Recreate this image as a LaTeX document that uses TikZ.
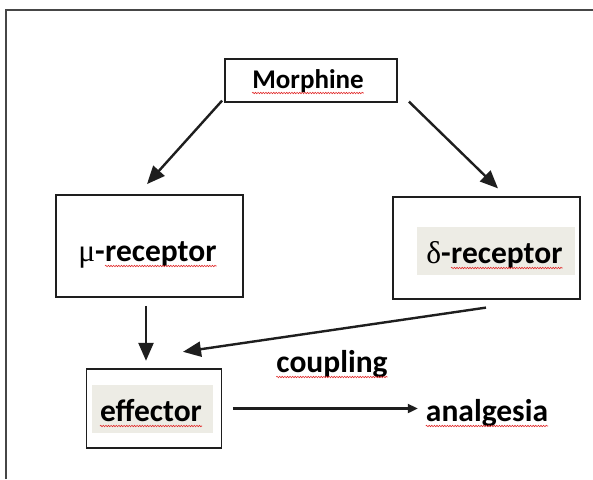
\documentclass[tikz,border=0pt]{standalone}
\usepackage{fontspec}
\setmainfont{Carlito}
\newfontfamily\greekf{Liberation Serif}
\usetikzlibrary{arrows.meta,calc,decorations.pathmorphing}
\definecolor{boxc}{RGB}{30,30,30}
\definecolor{framec}{RGB}{70,70,70}
\definecolor{shadec}{RGB}{237,236,229}
\definecolor{squig}{RGB}{225,40,40}
\begin{document}
\begin{tikzpicture}[x=1pt,y=-1pt,
  boxnode/.style={draw=boxc, line width=1.8pt, inner sep=0pt},
  lab/.style={inner sep=0pt, anchor=base, font=\fontsize{31.5}{36}\selectfont\bfseries},
  labw/.style={inner sep=0pt, anchor=base west, font=\fontsize{31.5}{36}\selectfont\bfseries},
  glab/.style={inner sep=0pt, anchor=base east, font=\fontsize{31.5}{36}\selectfont},
  conn/.style={line width=2.4pt, draw=boxc, -{Triangle[length=18pt,width=15pt]}},
  connsmall/.style={line width=2.2pt, draw=boxc, -{Triangle[length=10pt,width=9pt]}},
  squiggle/.style={draw=squig, line width=0.6pt, decorate, decoration={snake, segment length=2.6pt, amplitude=0.7pt}}
]
\useasboundingbox (0,0) rectangle (593,479);
\fill[white] (0,0) rectangle (593,479);
% outer frame
\draw[framec, line width=1.6pt] (6,479) -- (6,10) -- (593,10);

% shaded text backgrounds
\fill[shadec] (416.7,226.7) rectangle (575,275);
\fill[shadec] (91.7,385) rectangle (212.7,433);

% boxes
\node[boxnode, minimum width=172pt, minimum height=43pt] (morph) at (311,80.5) {};
\node[boxnode, minimum width=187pt, minimum height=102pt] (mu) at (149.5,246) {};
\node[boxnode, minimum width=187pt, minimum height=102pt] (delta) at (486.5,248) {};
\node[boxnode, minimum width=135pt, minimum height=79pt] (eff) at (154,408.5) {};

% texts
\node[lab, font=\fontsize{27}{32}\selectfont\bfseries] (tmorph) at (308,88) {Morphine};
\node[labw] (tmu) at (105,261) {receptor};
\node[glab] (gmu) at (tmu.base west) {{\greekf μ}\bfseries-};
\node[labw] (tdelta) at (451,263) {receptor};
\node[glab] (gdelta) at (tdelta.base west) {{\greekf δ}\bfseries-};
\node[lab] (teff) at (151,421) {effector};
\node[lab] (tcoup) at (332,372) {coupling};
\node[lab] (tana) at (487,421) {analgesia};

% spell-check squiggles
\foreach \w in {tmorph,tmu,tdelta,teff,tcoup,tana}{
  \draw[squiggle] ($(\w.base west)+(0,5)$) -- ($(\w.base east)+(0,5)$);
}

% connectors
\draw[conn] ($(morph.south west)+(-2,-2.3)$) -- ($(mu.north)+(-2.5,-10)$);
\draw[conn] ($(morph.south east)+(11,-1.3)$) -- ($(delta.north)+(11.5,-7.7)$);
\draw[conn] ($(mu.south)+(-3.5,8)$) -- ($(eff.north)+(-8,-7.3)$);
\draw[conn] ($(delta.south)+(-0.5,7.7)$) -- ($(eff.north)+(29,-16.3)$);
\coordinate (effout) at ($(eff.east)+(10.5,0)$);
\draw[connsmall] (effout) -- ($(effout -| tana.west)+(-8,0)$);
\end{tikzpicture}
\end{document}
